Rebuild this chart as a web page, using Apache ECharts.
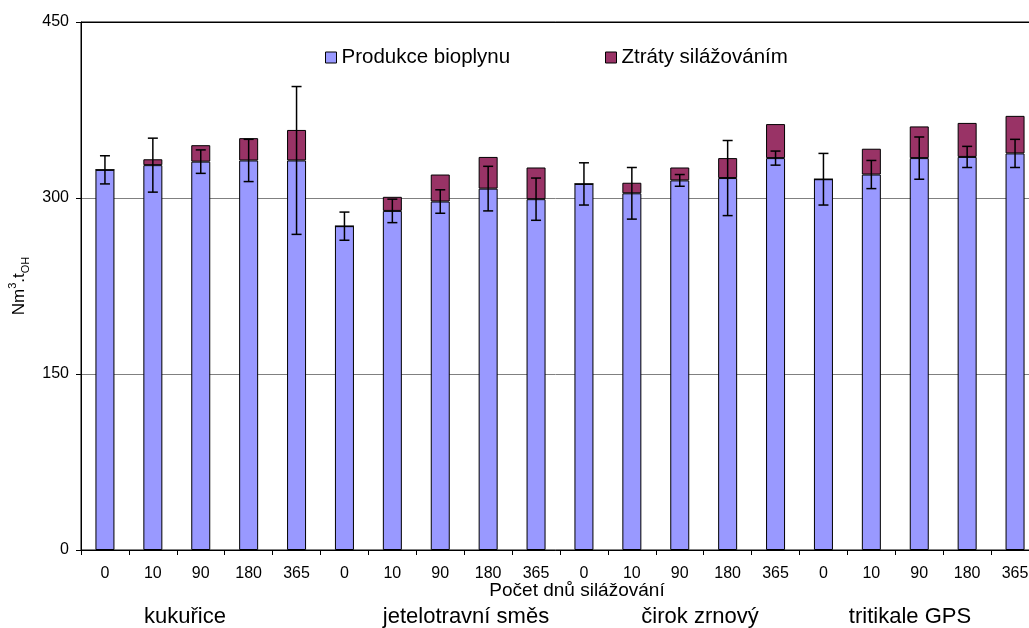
<!DOCTYPE html>
<html>
<head>
<meta charset="utf-8">
<script src="https://cdn.jsdelivr.net/npm/echarts@6/dist/echarts.min.js"></script>
<style>
  html, body { margin: 0; padding: 0; background: #fff; }
  #chart { width: 1029px; height: 628px; }
</style>
</head>
<body>
<div id="chart"></div>
<script>
// dny silážování pro každou plodinu
const days = ['0', '10', '90', '180', '365',
              '0', '10', '90', '180', '365',
              '0', '10', '90', '180', '365',
              '0', '10', '90', '180', '365'];
const crops = ['kukuřice', 'jetelotravní směs', 'čirok zrnový', 'tritikale GPS'];
// produkce bioplynu [Nm3/t OH]
const production = [324, 328, 331, 332, 332, 276, 289, 297, 308, 299,
                    312, 304, 315, 317, 334, 316, 320, 334, 335, 338];
// ztráty silážováním (nad produkcí)
const losses = [0, 5, 14, 19, 26, 0, 12, 23, 27, 27,
                0, 9, 11, 17, 29, 0, 22, 27, 29, 32];
// směrodatná odchylka (chybové úsečky)
const errors = [12, 23, 10, 18, 63, 12, 10, 10, 19, 18,
                18, 22, 5, 32, 6, 22, 12, 18, 9, 12];
const yTicks = [0, 150, 300, 450];

const FONT = 'Liberation Sans, Arial, sans-serif';
const chart = echarts.init(document.getElementById('chart'));

// chybové úsečky jako custom série
const renderError = (params, api) => {
  const x = api.value(0);
  const v = api.value(1);
  const e = api.value(2);
  const top = api.coord([x, v + e]);
  const bot = api.coord([x, v - e]);
  const half = 5;
  const style = { stroke: '#000', lineWidth: 1.5 };
  return {
    type: 'group',
    children: [
      { type: 'line', shape: { x1: top[0], y1: top[1], x2: bot[0], y2: bot[1] }, style },
      { type: 'line', shape: { x1: top[0] - half, y1: top[1], x2: top[0] + half, y2: top[1] }, style },
      { type: 'line', shape: { x1: bot[0] - half, y1: bot[1], x2: bot[0] + half, y2: bot[1] }, style }
    ]
  };
};

// popisky plodin pod osou
const cropX = [185, 466, 700, 910];

const legendText = { fontSize: 20.5, color: '#000', fontFamily: FONT };

const option = {
  animation: false,
  backgroundColor: '#fff',
  textStyle: { fontFamily: FONT },
  grid: {
    left: 81, top: 22, width: 958, height: 528,
    outerBoundsMode: 'none',
    containLabel: false,
    show: true, borderColor: '#000', borderWidth: 1
  },
  legend: [
    {
      data: ['Produkce bioplynu'], left: 320, top: 42, icon: 'rect',
      itemWidth: 11, itemHeight: 11, itemGap: 0,
      itemStyle: { borderColor: '#000', borderWidth: 1 },
      textStyle: legendText
    },
    {
      data: ['Ztráty silážováním'], left: 600, top: 42, icon: 'rect',
      itemWidth: 11, itemHeight: 11, itemGap: 0,
      itemStyle: { borderColor: '#000', borderWidth: 1 },
      textStyle: legendText
    }
  ],
  xAxis: {
    type: 'category',
    data: days,
    axisLine: { lineStyle: { color: '#000', width: 1 } },
    axisTick: { show: true, length: 5, interval: 0, lineStyle: { color: '#000' } },
    axisLabel: { interval: 0, fontSize: 16, color: '#000', margin: 16, fontFamily: FONT }
  },
  yAxis: {
    type: 'value',
    min: yTicks[0],
    max: yTicks[yTicks.length - 1],
    interval: 150,
    name: '{a|Nm}{s|3}{a|.t}{b|OH}',
    nameLocation: 'middle',
    nameRotate: 90,
    nameGap: 50,
    nameTextStyle: {
      rich: {
        a: { fontSize: 17, color: '#000', fontFamily: FONT, lineHeight: 24 },
        s: { fontSize: 11, color: '#000', fontFamily: FONT, verticalAlign: 'top', lineHeight: 24 },
        b: { fontSize: 11, color: '#000', fontFamily: FONT, verticalAlign: 'bottom', lineHeight: 24 }
      }
    },
    axisLine: { show: true, lineStyle: { color: '#000', width: 1 } },
    axisTick: { show: true, length: 5, lineStyle: { color: '#000' } },
    axisLabel: { fontSize: 16, color: '#000', margin: 12, fontFamily: FONT },
    splitLine: { show: true, lineStyle: { color: '#808080', width: 1 } }
  },
  series: [
    {
      name: 'Produkce bioplynu',
      type: 'bar',
      stack: 'total',
      barWidth: 19,
      data: production,
      itemStyle: { color: '#9999FF', borderColor: '#000', borderWidth: 1 }
    },
    {
      name: 'Ztráty silážováním',
      type: 'bar',
      stack: 'total',
      barWidth: 19,
      data: losses,
      itemStyle: { color: '#993366', borderColor: '#000', borderWidth: 1 }
    },
    {
      name: 'chyba',
      type: 'custom',
      renderItem: renderError,
      data: production.map((v, i) => [i, v, errors[i]]),
      z: 10,
      silent: true
    }
  ],
  graphic: [
    {
      type: 'line', silent: true, z: 100,
      shape: { x1: 81, y1: 22.5, x2: 1029, y2: 22.5 },
      style: { stroke: '#000', lineWidth: 1 }
    },
    {
      type: 'text', x: 577, y: 591,
      style: { text: 'Počet dnů silážování', fontSize: 19, fontFamily: FONT, fill: '#000',
               textAlign: 'center', textVerticalAlign: 'middle' }
    }
  ].concat(crops.map((c, i) => ({
    type: 'text', x: cropX[i], y: 617,
    style: { text: c, fontSize: 22, fontFamily: FONT, fill: '#000',
             textAlign: 'center', textVerticalAlign: 'middle' }
  })))
};

chart.setOption(option);
</script>
</body>
</html>
